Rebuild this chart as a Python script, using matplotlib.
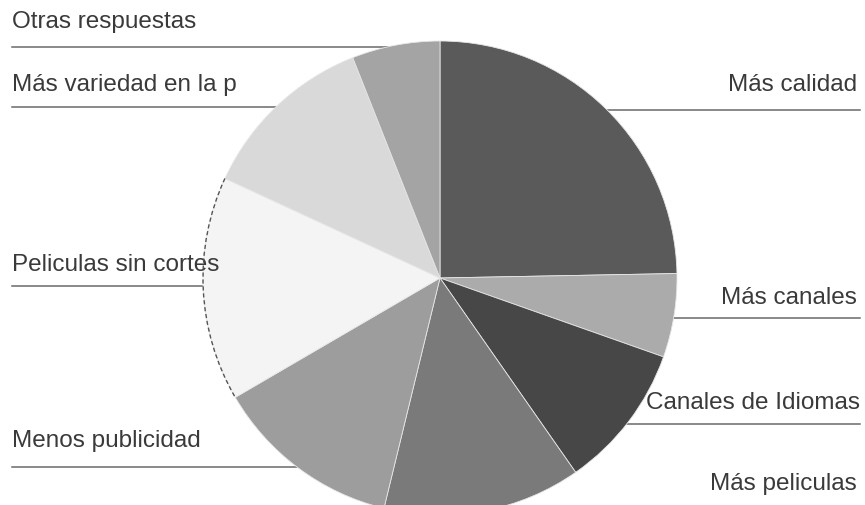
import matplotlib.pyplot as plt
from matplotlib.patches import Arc

# datos (porcentajes aproximados)
categorias = ['Más calidad', 'Más canales', 'Canales de Idiomas', 'Más peliculas',
              'Menos publicidad', 'Peliculas sin cortes', 'Más variedad en la p',
              'Otras respuestas']
valores = [24.7, 5.7, 9.9, 13.5, 12.8, 15.3, 12.1, 6.0]
colores = ['#5a5a5a', '#ababab', '#474747', '#7a7a7a',
           '#9d9d9d', '#f4f4f4', '#d9d9d9', '#a4a4a4']

W, H = 865, 505
cx, cy, r = 440, H - 278, 237

fig = plt.figure(figsize=(W / 100, H / 100), dpi=100)
ax = fig.add_axes([0, 0, 1, 1])

# posiciones de etiquetas: (lado, x, y texto, y linea) en pixeles desde arriba
pos = {
    'Otras respuestas': ('left', 12, 22, 47),
    'Más variedad en la p': ('left', 12, 85, 107),
    'Peliculas sin cortes': ('left', 12, 265, 286),
    'Menos publicidad': ('left', 12, 441, 467),
    'Más calidad': ('right', 857, 85, 110),
    'Más canales': ('right', 857, 298, 318),
    'Canales de Idiomas': ('right', 860, 403, 424),
    'Más peliculas': ('right', 857, 484, None),
}

for nombre in categorias:
    lado, x, yt, yl = pos[nombre]
    ax.text(x, H - yt, nombre, ha=lado, va='center', fontsize=17.5,
            family='Liberation Sans', color='#3a3a3a')
    if yl is not None:
        xe = 860 if lado == 'right' else 12
        ax.plot([xe, cx], [H - yl, H - yl], color='#6a6a6a', lw=1.1, zorder=1)

wedges, _ = ax.pie(valores, colors=colores, startangle=90, counterclock=False,
                   center=(cx, cy), radius=r, frame=True,
                   wedgeprops=dict(edgecolor='#e6e6e6', linewidth=0.6))
for w in wedges:
    w.set_zorder(2)

# borde punteado del sector blanco
t1 = 90 - sum(valores[:6]) * 3.6
t2 = 90 - sum(valores[:5]) * 3.6
ax.add_patch(Arc((cx, cy), 2 * r, 2 * r, theta1=t1, theta2=t2,
                 color='#555555', lw=1.0, ls=(0, (3, 2)), zorder=3))

ax.set_xlim(0, W)
ax.set_ylim(0, H)
ax.set_aspect('auto')
ax.axis('off')

plt.savefig('out.png', dpi=100)
